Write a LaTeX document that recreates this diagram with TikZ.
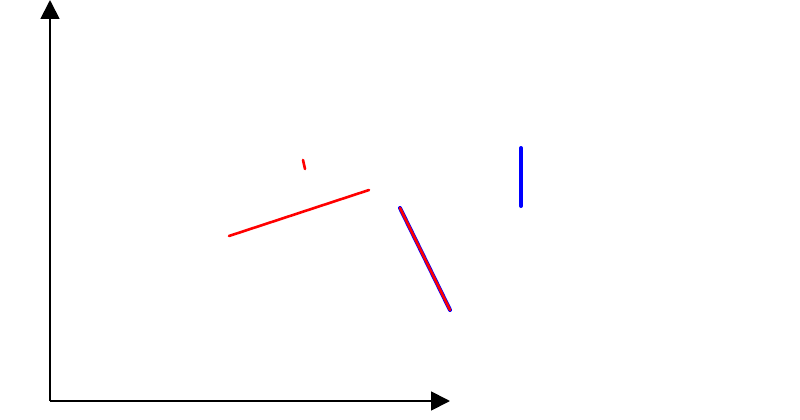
\documentclass[tikz,border=0pt]{standalone}
\usepackage{tikz}
\usetikzlibrary{arrows.meta}

\begin{document}
\begin{tikzpicture}[x=1pt,y=-1pt,axis/.style={line width=1.8pt,-{Triangle[length=19pt,width=19pt]}},redseg/.style={red,line width=2.6pt,line cap=round},blueseg/.style={blue,line width=4pt,line cap=round}]
\useasboundingbox (0,0) rectangle (800,420);
\coordinate (origin) at (50,401);
\coordinate (ytop) at (50,0);
\coordinate (xend) at (450,401);
\draw[axis] (origin) -- (ytop);
\draw[axis] (origin) -- (xend);
\draw[redseg] (229,236) -- (369,190);
\draw[redseg] (303,160) -- (305,169);
\draw[blueseg] (521,148) -- (521,206);
\draw[blueseg] (400,208) -- (450,310);
\draw[redseg] (400,208) -- (450,310);
\end{tikzpicture}
\end{document}
